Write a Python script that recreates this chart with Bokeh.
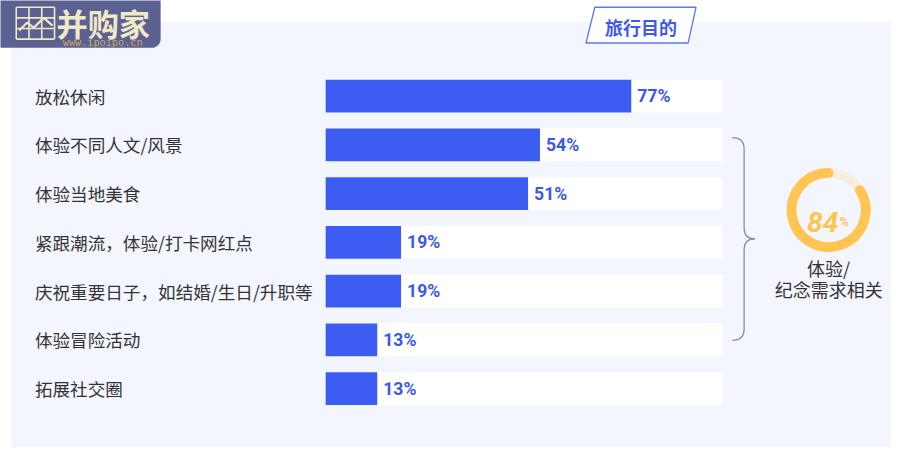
import math
from bokeh.plotting import figure
from bokeh.models import Range1d
from bokeh.core.properties import value
from bokeh.embed import file_html
from bokeh.resources import INLINE

# ---------------- data ----------------
categories = ["放松休闲", "体验不同人文/风景", "体验当地美食", "紧跟潮流，体验/打卡网红点",
              "庆祝重要日子，如结婚/生日/升职等", "体验冒险活动", "拓展社交圈"]
values = [77, 54, 51, 19, 19, 13, 13]
value_labels = [f"{v}%" for v in values]
title_text = "旅行目的"
donut_value = 84
donut_caption = ["体验/", "纪念需求相关"]
logo_text = "并购家"
logo_url = "www.ipoipo.cn"

# ---------------- layout helpers (reference pixel space) ----------------
W, H = 891, 447          # figure size (fits window with 8px margin)
RW, RH = 907, 463        # reference pixel space
S = 0.975                # font/line scale


def Y(y):
    return RH - y


CJK = value("Noto Sans CJK SC")
NUM = value("Roboto")

p = figure(width=W, height=H, x_range=Range1d(0, RW), y_range=Range1d(0, RH),
           output_backend="svg", toolbar_location=None, min_border=0,
           x_axis_type=None, y_axis_type=None, outline_line_color=None,
           background_fill_color="white", border_fill_color="white")
p.grid.visible = False

# percentage scale: 0% at x=331, 100% at x=735
px_per_pct = (735 - 331) / 100.0
p.extra_x_ranges["pct"] = Range1d(-331 / px_per_pct, (RW - 331) / px_per_pct)
# row scale: row i centred at y = 99 + 50.5*i (from top)
row_step, row0 = 50.5, 99.0
p.extra_y_ranges["row"] = Range1d((RH - row0) / row_step, -row0 / row_step)
idx = list(range(len(categories)))

# panel background
p.quad(left=[11], right=[RW], top=[Y(22)], bottom=[0], fill_color="#F3F6FE", line_color=None)


def rounded_rect(x0, y0, x1, y1, r, n=10):
    xs, ys = [], []
    corners = [(x1 - r, y0 + r, -90, 0), (x1 - r, y1 - r, 0, 90),
               (x0 + r, y1 - r, 90, 180), (x0 + r, y0 + r, 180, 270)]
    for cx, cy, a0, a1 in corners:
        for k in range(n + 1):
            a = math.radians(a0 + (a1 - a0) * k / n)
            xs.append(cx + r * math.cos(a))
            ys.append(Y(cy + r * math.sin(a)))
    return xs, ys


# ---------------- logo ----------------
lx, ly = rounded_rect(-10, -10, 163, 49, 9)
p.patch(lx, ly, fill_color="#5B6191", line_color=None)
cream = "#F1E8C8"
gx = [16, 29, 42, 55]
gy = [7, 18, 29, 40]
p.multi_line(xs=[[x, x] for x in gx] + [[16, 55] for _ in gy],
             ys=[[Y(7), Y(40)] for _ in gx] + [[Y(y), Y(y)] for y in gy],
             line_color=cream, line_width=1.6)
p.line([19, 27, 34, 44, 53], [Y(31), Y(23), Y(28), Y(18), Y(26)], line_color=cream, line_width=2.2)
p.text(x=[57], y=[Y(23)], text=[logo_text], text_font=CJK, text_font_style="bold",
       text_font_size=f"{32*S:.1f}px", text_color=cream, text_align="left", text_baseline="middle")
p.text(x=[104], y=[Y(43)], text=[logo_url], text_font=value("DejaVu Sans Mono"),
       text_font_size=f"{10.5*S:.1f}px", text_color="#C9A75E", text_align="center", text_baseline="middle")

# ---------------- title tag ----------------
p.patch([605, 708, 700, 596], [Y(7), Y(7), Y(44), Y(44)], fill_color="white",
        line_color="#5A78F0", line_width=1.3, line_join="round")
p.text(x=[652], y=[Y(27)], text=[title_text], text_font=CJK, text_font_style="bold",
       text_font_size=f"{18.5*S:.1f}px", text_color="#3D5BE8", text_align="center", text_baseline="middle")

# ---------------- bars ----------------
bar_h = 34 / row_step
p.hbar(y=idx, left=0, right=100, height=bar_h, fill_color="white", line_color=None,
       x_range_name="pct", y_range_name="row")
p.hbar(y=idx, left=0, right=values, height=bar_h, fill_color="#3C5CF2", line_color=None,
       x_range_name="pct", y_range_name="row")
p.text(x=values, y=idx, text=value_labels, x_offset=6, text_font=NUM, text_font_style="bold",
       text_font_size=f"{18*S:.1f}px", text_color="#3E58E6", text_align="left",
       text_baseline="middle", x_range_name="pct", y_range_name="row")
p.text(x=[35] * len(categories), y=idx, text=categories, text_font=CJK,
       text_font_size=f"{18*S:.1f}px", text_color="#333333", text_align="left",
       text_baseline="middle", y_range_name="row")

# ---------------- bracket ----------------
bc = "#8C8C8C"
p.quadratic(x0=[745, 757, 768, 757], y0=[Y(142), Y(236), Y(247), Y(340)],
            x1=[757, 768, 757, 745], y1=[Y(154), Y(247), Y(258), Y(352)],
            cx=[757, 757, 757, 757], cy=[Y(142), Y(247), Y(247), Y(352)],
            line_color=bc, line_width=1.3)
p.segment(x0=[757, 757], y0=[Y(154), Y(258)], x1=[757, 757], y1=[Y(236), Y(340)],
          line_color=bc, line_width=1.3)

# ---------------- donut ----------------
dcx, dcy = 843, 217
p.circle(x=[dcx], y=[Y(dcy)], radius=38 * S, radius_units="screen", fill_color=None,
         line_color="#F7EEDD", line_width=10 * S)
p.arc(x=[dcx], y=[Y(dcy)], radius=38 * S, radius_units="screen",
      start_angle=math.pi / 2, end_angle=math.pi / 2 + donut_value / 100 * 2 * math.pi,
      direction="anticlock", line_color="#FFC552", line_width=10 * S, line_cap="round")
p.text(x=[853], y=[Y(229)], text=[str(donut_value)], text_font=NUM, text_font_style="bold italic",
       text_font_size=f"{29*S:.1f}px", text_color="#FFC552", text_align="right",
       text_baseline="alphabetic")
p.text(x=[854], y=[Y(229)], text=["%"], text_font=NUM, text_font_style="bold",
       text_font_size=f"{13*S:.1f}px", text_color="#FFC552", text_align="left",
       text_baseline="alphabetic")
p.text(x=[843, 843], y=[Y(277), Y(299)], text=donut_caption, text_font=CJK,
       text_font_size=f"{18.5*S:.1f}px", text_color="#333333", text_align="center",
       text_baseline="middle")

open("out.html", "w").write(file_html(p, INLINE))
